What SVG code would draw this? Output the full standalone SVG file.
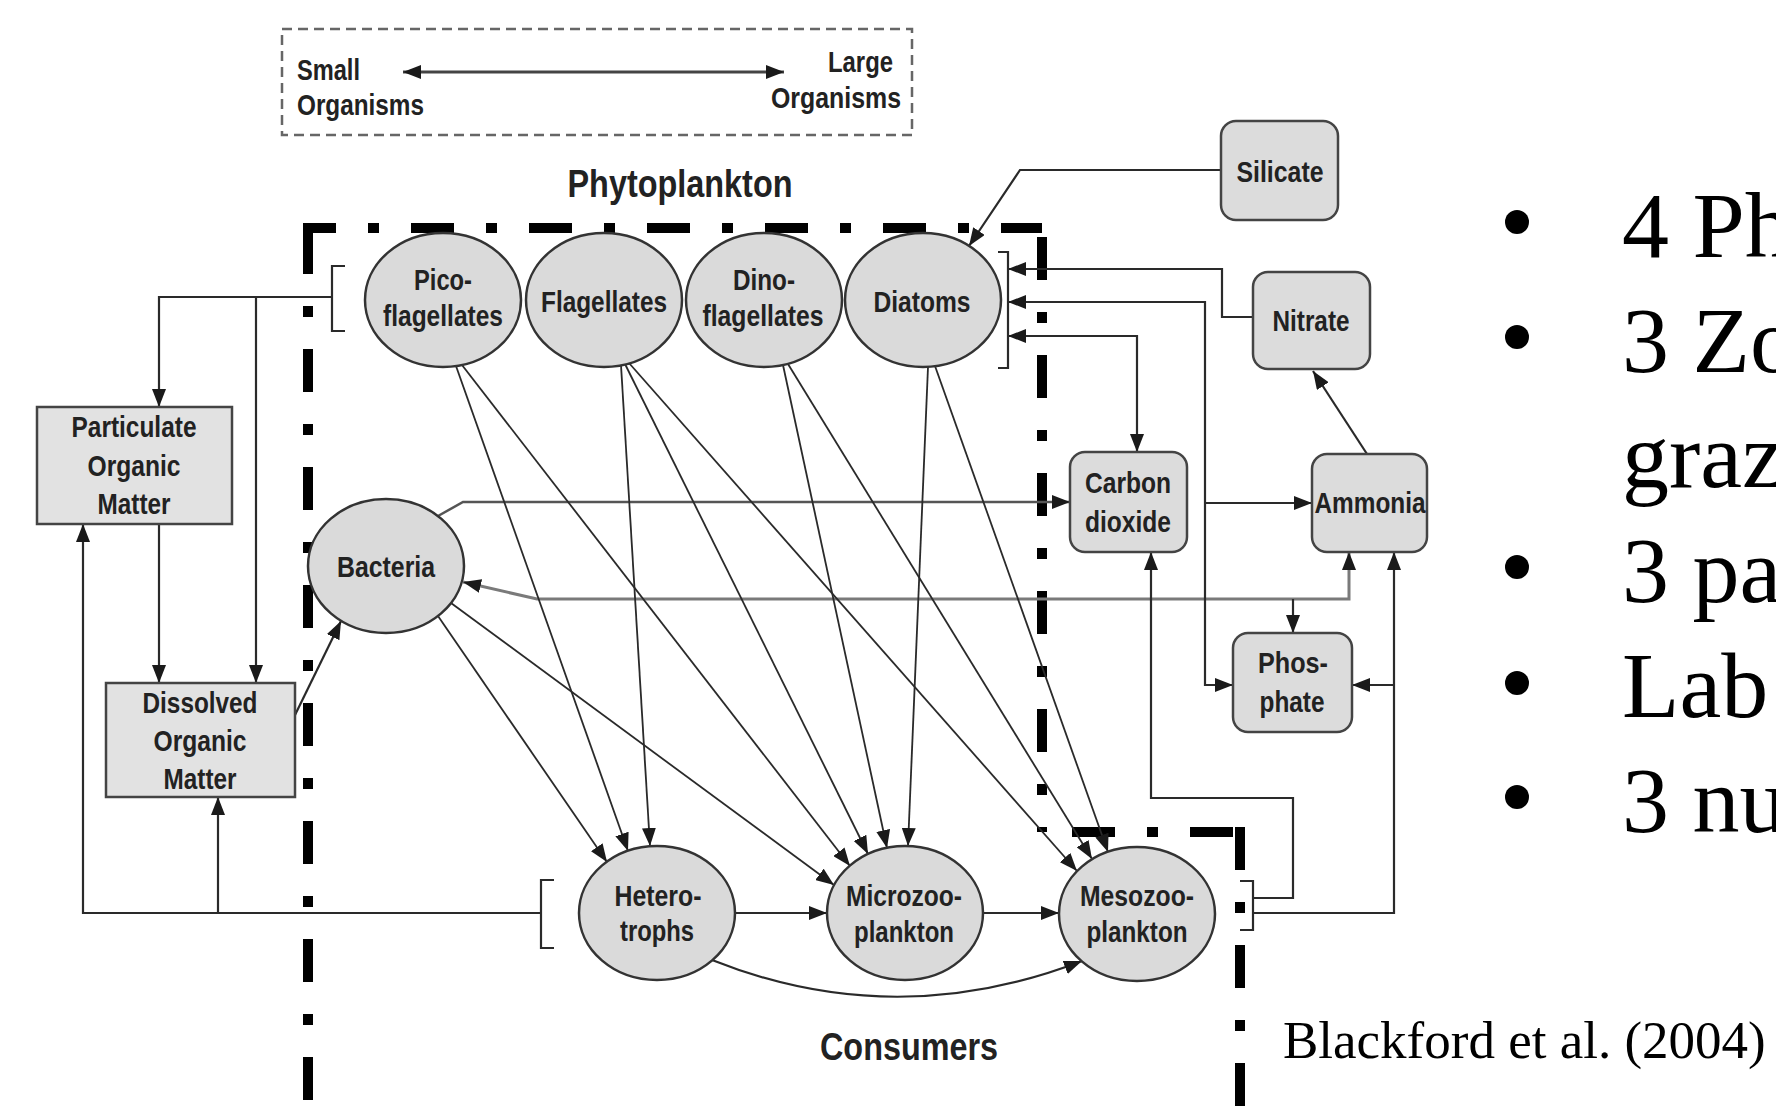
<svg xmlns="http://www.w3.org/2000/svg" width="1776" height="1117" viewBox="0 0 1776 1117">
<defs>
<style>
.lbl{font-family:"Liberation Sans Narrow","Liberation Sans",Arial,sans-serif;font-weight:bold;font-size:30px;fill:#222;text-anchor:middle}
.lft{text-anchor:start}
.big{font-size:38px}
.node{fill:#dadada;stroke:#333;stroke-width:2.5}
.box{fill:#e2e2e2;stroke:#444;stroke-width:2.5}
.nut{fill:#dcdcdc;stroke:#444;stroke-width:2.5}
.c{fill:none;stroke:#2a2a2a;stroke-width:2.2}
.t{fill:none;stroke:#2a2a2a;stroke-width:1.8}
.g{fill:none;stroke:#555;stroke-width:2.5}
.gray{fill:none;stroke:#7a7a7a;stroke-width:3}
.dd{fill:none;stroke:#000;stroke-width:10;stroke-dasharray:43 32 11 32}
.serif{font-family:"Liberation Serif","Times New Roman",serif;fill:#000}
</style>
<marker id="ah" markerUnits="userSpaceOnUse" markerWidth="18" markerHeight="14" refX="18" refY="7" orient="auto"><path d="M0,0 L18,7 L0,14 z" fill="#1a1a1a"/></marker>
<marker id="ahs" markerUnits="userSpaceOnUse" markerWidth="18" markerHeight="14" refX="0" refY="7" orient="auto"><path d="M18,0 L0,7 L18,14 z" fill="#1a1a1a"/></marker>
</defs>
<rect width="1776" height="1117" fill="#fff"/>

<g id="legend">
<rect x="282" y="29" width="630" height="106" fill="none" stroke="#666" stroke-width="2.5" stroke-dasharray="10 6"/>
<path d="M403 72 H784" fill="none" stroke="#444" stroke-width="3" marker-start="url(#ahs)" marker-end="url(#ah)"/>
<text class="lbl lft" x="297" y="80" textLength="63" lengthAdjust="spacingAndGlyphs">Small</text>
<text class="lbl lft" x="297" y="115" textLength="127" lengthAdjust="spacingAndGlyphs">Organisms</text>
<text class="lbl lft" x="828" y="72" textLength="65" lengthAdjust="spacingAndGlyphs">Large</text>
<text class="lbl lft" x="771" y="108" textLength="130" lengthAdjust="spacingAndGlyphs">Organisms</text>
</g>

<g id="titles">
<text class="lbl big" x="680" y="197" textLength="225" lengthAdjust="spacingAndGlyphs">Phytoplankton</text>
<text class="lbl big" x="909" y="1060" textLength="178" lengthAdjust="spacingAndGlyphs">Consumers</text>
</g>

<g id="boundary">
<path class="dd" d="M303 228 H1042" stroke-dashoffset="10"/>
<path class="dd" d="M308 231 V1117"/>
<path class="dd" d="M1042 237 V832"/>
<path class="dd" d="M1072 832 H1240"/>
<path class="dd" d="M1240 827 V1117"/>
</g>

<g id="connectors">
<!-- phytoplankton export -->
<path class="c" d="M345 266 H332 V331 H345"/>
<path class="c" d="M332 297 H159 V407" marker-end="url(#ah)"/>
<path class="c" d="M256 297 V683" marker-end="url(#ah)"/>
<path class="c" d="M159 524 V683" marker-end="url(#ah)"/>
<path class="c" d="M295 715 L341 621" marker-end="url(#ah)"/>
<!-- consumer export -->
<path class="c" d="M554 880 H541 V948 H554"/>
<path class="c" d="M541 913 H83 V524" marker-end="url(#ah)"/>
<path class="c" d="M218 913 V797" marker-end="url(#ah)"/>
<!-- bacteria respiration / nutrients -->
<path class="g" d="M438 516 L463 502 H1070" marker-end="url(#ah)"/>
<path class="gray" d="M463 582 L537 599 H1349 V552" marker-start="url(#ahs)" marker-end="url(#ah)"/>
<path class="c" d="M1293 599 V633" marker-end="url(#ah)"/>
<!-- nutrients -->
<path class="c" d="M1205 503 H1312" marker-end="url(#ah)"/>
<path class="c" d="M1367 454 L1313 371" marker-end="url(#ah)"/>
<path class="c" d="M1253 317 H1222 V269 H1008" marker-end="url(#ah)"/>
<path class="c" d="M1008 302 H1205 V685 H1233" marker-start="url(#ahs)" marker-end="url(#ah)"/>
<path class="c" d="M1008 336 H1137 V452" marker-start="url(#ahs)" marker-end="url(#ah)"/>
<path class="c" d="M1221 170 H1020 L969 246" marker-end="url(#ah)"/>
<path class="c" d="M998 252 H1008 V368 H998"/>
<!-- grazing -->
<path class="t" d="M456 366 L628 851" marker-end="url(#ah)"/>
<path class="t" d="M462 365 L850 866" marker-end="url(#ah)"/>
<path class="t" d="M621 365 L650 846" marker-end="url(#ah)"/>
<path class="t" d="M625 364 L868 854" marker-end="url(#ah)"/>
<path class="t" d="M629 363 L1077 871" marker-end="url(#ah)"/>
<path class="t" d="M783 365 L887 848" marker-end="url(#ah)"/>
<path class="t" d="M788 364 L1092 859" marker-end="url(#ah)"/>
<path class="t" d="M928 367 L908 846" marker-end="url(#ah)"/>
<path class="t" d="M935 366 L1108 852" marker-end="url(#ah)"/>
<path class="t" d="M438 616 L607 862" marker-end="url(#ah)"/>
<path class="t" d="M451 603 L834 885" marker-end="url(#ah)"/>
<path class="c" d="M735 913 H827" marker-end="url(#ah)"/>
<path class="c" d="M983 913 H1059" marker-end="url(#ah)"/>
<path class="c" d="M712 960 Q895 1033 1082 961" marker-end="url(#ah)"/>
<!-- mesozooplankton export -->
<path class="c" d="M1240 881 H1253 V930 H1240"/>
<path class="c" d="M1253 898 H1293 V798 H1151 V552" marker-end="url(#ah)"/>
<path class="c" d="M1253 913 H1394 V552" marker-end="url(#ah)"/>
<path class="c" d="M1394 685 H1352" marker-end="url(#ah)"/>
</g>

<g id="picoflagellates">
<ellipse class="node" cx="443" cy="300" rx="78" ry="67"/>
<text class="lbl" x="443" y="290" textLength="58" lengthAdjust="spacingAndGlyphs">Pico-</text>
<text class="lbl" x="443" y="326" textLength="120" lengthAdjust="spacingAndGlyphs">flagellates</text>
</g>
<g id="flagellates">
<ellipse class="node" cx="604" cy="300" rx="78" ry="67"/>
<text class="lbl" x="604" y="312" textLength="126" lengthAdjust="spacingAndGlyphs">Flagellates</text>
</g>
<g id="dinoflagellates">
<ellipse class="node" cx="764" cy="300" rx="78" ry="67"/>
<text class="lbl" x="764" y="290" textLength="62" lengthAdjust="spacingAndGlyphs">Dino-</text>
<text class="lbl" x="763" y="326" textLength="121" lengthAdjust="spacingAndGlyphs">flagellates</text>
</g>
<g id="diatoms">
<ellipse class="node" cx="923" cy="300" rx="78" ry="67"/>
<text class="lbl" x="922" y="312" textLength="97" lengthAdjust="spacingAndGlyphs">Diatoms</text>
</g>
<g id="bacteria">
<ellipse class="node" cx="386" cy="566" rx="78" ry="67"/>
<text class="lbl" x="386" y="577" textLength="98" lengthAdjust="spacingAndGlyphs">Bacteria</text>
</g>
<g id="heterotrophs">
<ellipse class="node" cx="657" cy="913" rx="78" ry="67"/>
<text class="lbl" x="658" y="906" textLength="87" lengthAdjust="spacingAndGlyphs">Hetero-</text>
<text class="lbl" x="657" y="941" textLength="74" lengthAdjust="spacingAndGlyphs">trophs</text>
</g>
<g id="microzooplankton">
<ellipse class="node" cx="905" cy="913" rx="78" ry="67"/>
<text class="lbl" x="904" y="906" textLength="116" lengthAdjust="spacingAndGlyphs">Microzoo-</text>
<text class="lbl" x="904" y="942" textLength="100" lengthAdjust="spacingAndGlyphs">plankton</text>
</g>
<g id="mesozooplankton">
<ellipse class="node" cx="1137" cy="914" rx="78" ry="67"/>
<text class="lbl" x="1137" y="906" textLength="114" lengthAdjust="spacingAndGlyphs">Mesozoo-</text>
<text class="lbl" x="1137" y="942" textLength="101" lengthAdjust="spacingAndGlyphs">plankton</text>
</g>
<g id="pom">
<rect class="box" x="37" y="407" width="195" height="117"/>
<text class="lbl" x="134" y="437" textLength="125" lengthAdjust="spacingAndGlyphs">Particulate</text>
<text class="lbl" x="134" y="476" textLength="93" lengthAdjust="spacingAndGlyphs">Organic</text>
<text class="lbl" x="134" y="514" textLength="73" lengthAdjust="spacingAndGlyphs">Matter</text>
</g>
<g id="dom">
<rect class="box" x="106" y="683" width="189" height="114"/>
<text class="lbl" x="200" y="713" textLength="115" lengthAdjust="spacingAndGlyphs">Dissolved</text>
<text class="lbl" x="200" y="751" textLength="93" lengthAdjust="spacingAndGlyphs">Organic</text>
<text class="lbl" x="200" y="789" textLength="73" lengthAdjust="spacingAndGlyphs">Matter</text>
</g>
<g id="silicate">
<rect class="nut" x="1221" y="121" width="117" height="99" rx="15"/>
<text class="lbl" x="1280" y="182" textLength="87" lengthAdjust="spacingAndGlyphs">Silicate</text>
</g>
<g id="nitrate">
<rect class="nut" x="1253" y="272" width="117" height="97" rx="15"/>
<text class="lbl" x="1311" y="331" textLength="77" lengthAdjust="spacingAndGlyphs">Nitrate</text>
</g>
<g id="carbondioxide">
<rect class="nut" x="1070" y="452" width="117" height="100" rx="15"/>
<text class="lbl" x="1128" y="493" textLength="86" lengthAdjust="spacingAndGlyphs">Carbon</text>
<text class="lbl" x="1128" y="532" textLength="86" lengthAdjust="spacingAndGlyphs">dioxide</text>
</g>
<g id="ammonia">
<rect class="nut" x="1312" y="454" width="115" height="98" rx="15"/>
<text class="lbl" x="1370" y="513" textLength="111" lengthAdjust="spacingAndGlyphs">Ammonia</text>
</g>
<g id="phosphate">
<rect class="nut" x="1233" y="633" width="119" height="99" rx="15"/>
<text class="lbl" x="1293" y="673" textLength="70" lengthAdjust="spacingAndGlyphs">Phos-</text>
<text class="lbl" x="1292" y="712" textLength="65" lengthAdjust="spacingAndGlyphs">phate</text>
</g>

<g id="bullets">
<circle cx="1517" cy="222" r="12"/>
<circle cx="1517" cy="337" r="12"/>
<circle cx="1517" cy="567" r="12"/>
<circle cx="1517" cy="683" r="12"/>
<circle cx="1517" cy="797" r="12"/>
<text class="serif" x="1622" y="257" font-size="94">4 Ph</text>
<text class="serif" x="1622" y="372" font-size="94">3 Zo</text>
<text class="serif" x="1622" y="487" font-size="94">graz</text>
<text class="serif" x="1622" y="602" font-size="94">3 pa</text>
<text class="serif" x="1622" y="717" font-size="94">Lab</text>
<text class="serif" x="1622" y="832" font-size="94">3 nu</text>
<text class="serif" x="1283" y="1058" font-size="53">Blackford et al. (2004)</text>
</g>
</svg>
